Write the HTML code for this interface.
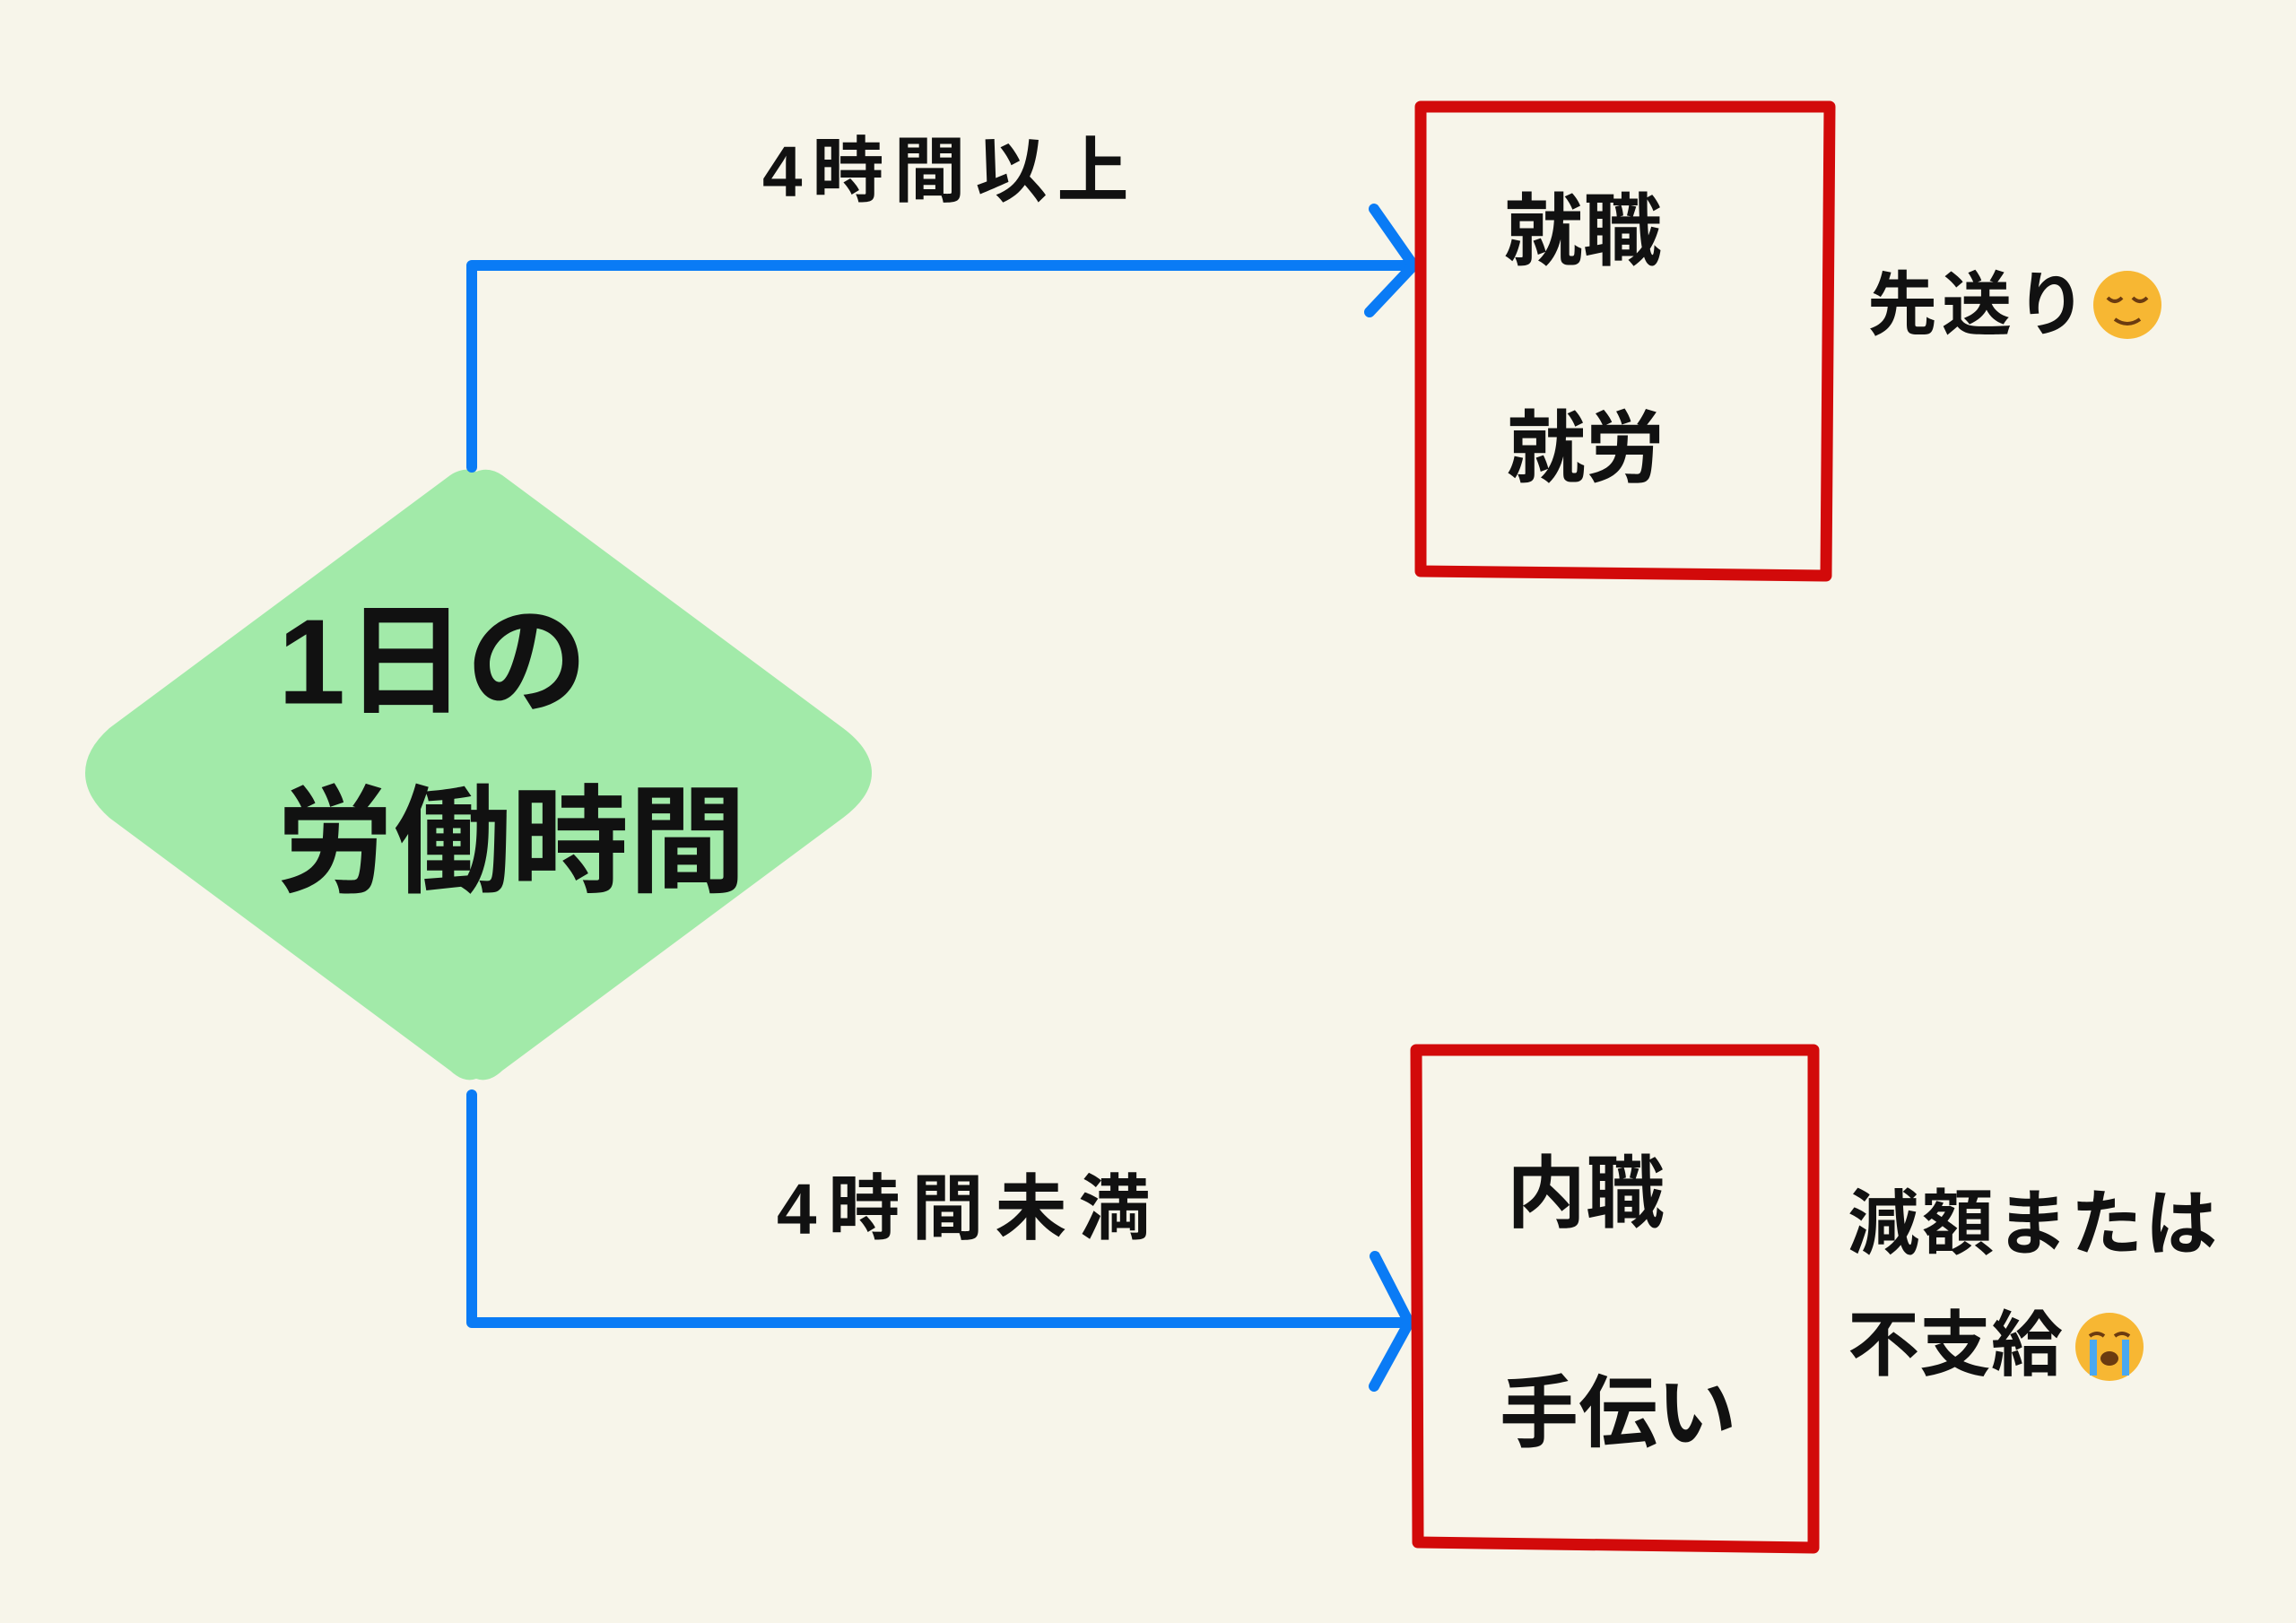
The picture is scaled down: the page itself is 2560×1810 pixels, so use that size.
<!DOCTYPE html>
<html><head><meta charset="utf-8"><style>
html,body{margin:0;padding:0;background:#f7f5ea;}
svg{display:block}
text{font-family:"Liberation Sans","Noto Sans CJK JP",sans-serif;font-weight:bold;fill:#111;dominant-baseline:central}
</style></head><body>
<svg width="2560" height="1810" viewBox="0 0 2560 1810" xmlns="http://www.w3.org/2000/svg">
<rect width="2560" height="1810" fill="#f7f5ea"/>
<path d="M531 526 Q545 520 560 530 L940 812 Q972 836 972 862 Q972 888 940 912 L560 1194 Q545 1208 531 1203 Q517 1208 502 1194 L122 912 Q95 888 95 862 Q95 836 122 812 L502 530 Q517 520 531 526 Z" fill="#a2eaa9"/>
<g fill="none" stroke="#0a7bf5" stroke-width="12" stroke-linecap="round" stroke-linejoin="round">
<path d="M526 521 V296 H1574"/>
<path d="M1532 233 L1576 296 L1527 348"/>
<path d="M526 1221 V1475 H1569"/>
<path d="M1533 1401 L1571 1475 L1532 1546"/>
</g>
<g fill="none" stroke="#d20a0a" stroke-width="13" stroke-linejoin="round">
<path d="M1584 119 L2040 119 L2036 642 L1584 637 Z"/>
<path d="M1579 1171 L2022 1171 L2022 1726 L1581 1720 Z"/>
</g>
<text x="850" y="191" font-size="80" letter-spacing="11">4時間以上</text>
<text x="1677" y="258" font-size="88">就職</text>
<text x="1680" y="500" font-size="88">就労</text>
<text x="2082" y="340" font-size="78" letter-spacing="5">先送り</text>
<circle cx="2372" cy="340" r="38" fill="#f7b733"/>
<path d="M2350 332 q8 8 16 0 M2378 332 q8 8 16 0 M2358 356 q14 10 28 0" stroke="#6b3b10" stroke-width="4" fill="none"/>
<text x="310" y="738" font-size="135">1日の</text>
<text x="308" y="939" font-size="131">労働時間</text>
<text x="866" y="1348" font-size="80" letter-spacing="13">4時間未満</text>
<text x="1680" y="1331" font-size="88">内職</text>
<text x="1672" y="1576" font-size="88">手伝い</text>
<text x="2060" y="1365" font-size="80" letter-spacing="3">減額または</text>
<text x="2060" y="1500" font-size="80">不支給</text>
<circle cx="2352" cy="1502" r="38" fill="#f7b733"/>
<path d="M2330 1490 q8 -6 16 0 M2358 1490 q8 -6 16 0" stroke="#6b3b10" stroke-width="4" fill="none"/>
<ellipse cx="2352" cy="1515" rx="10" ry="8" fill="#6b3b10"/>
<rect x="2330" y="1494" width="8" height="40" fill="#4aa8f0"/>
<rect x="2366" y="1494" width="8" height="40" fill="#4aa8f0"/>
</svg>
</body></html>
